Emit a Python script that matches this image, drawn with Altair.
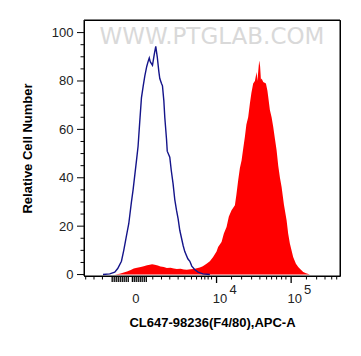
import altair as alt
import pandas as pd

# display position on the biexponential axis (decade units: 10^4 -> 4, 10^5 -> 5)
blue_x = [2.478, 2.568, 2.635, 2.675, 2.725, 2.756, 2.792, 2.823, 2.859, 2.881, 2.926, 2.948,
          2.970, 2.993, 3.017, 3.038, 3.064, 3.082, 3.098, 3.111, 3.141, 3.165, 3.185, 3.205,
          3.226, 3.239, 3.262, 3.275, 3.293, 3.306, 3.329, 3.339, 3.373, 3.393, 3.417, 3.440,
          3.463, 3.485, 3.507, 3.552, 3.574, 3.615, 3.642, 3.668, 3.709, 3.753, 3.816, 3.910]
blue_y = [0, 0.3, 1, 2.5, 5.5, 10, 16, 21, 30, 35, 47, 53,
          63, 73, 78, 82, 86, 88, 89.5, 88, 86.5, 91, 94.3, 90,
          84, 81, 79, 78, 72, 65, 56, 51, 48.5, 43, 37.6, 31,
          26.6, 23, 18.3, 12, 9.5, 6.5, 5.5, 3.5, 2, 1, 0.3, 0]

red_x = [2.635, 2.702, 2.756, 2.800, 2.850, 2.890, 2.934, 2.984, 3.024, 3.068, 3.105, 3.136,
         3.172, 3.212, 3.248, 3.293, 3.333, 3.383, 3.427, 3.467, 3.517, 3.561, 3.601, 3.651,
         3.695, 3.736, 3.776, 3.816, 3.866, 3.910, 3.954, 4.000, 4.021, 4.067, 4.098, 4.134,
         4.165, 4.201, 4.246, 4.266, 4.290, 4.313, 4.336, 4.357, 4.380, 4.400, 4.424, 4.447,
         4.467, 4.491, 4.514, 4.537, 4.548, 4.559, 4.572, 4.584, 4.595, 4.604, 4.626, 4.662,
         4.682, 4.693, 4.715, 4.738, 4.760, 4.783, 4.805, 4.827, 4.850, 4.872, 4.903, 4.939,
         4.960, 4.983, 5.005, 5.027, 5.064, 5.095, 5.131, 5.162, 5.199, 5.252]
red_y = [0, 0.3, 0.8, 1.3, 1.9, 2.5, 2.8, 3.1, 3.4, 3.8, 4.1, 4.3,
         4.0, 3.7, 3.3, 3.1, 2.7, 2.8, 2.5, 2.3, 2.4, 2.1, 2.0, 2.2,
         2.3, 2.6, 2.9, 3.4, 4.5, 5.5, 7.3, 9.5, 11.4, 13.5, 17, 19.7,
         24, 26.6, 28.6, 33, 39, 44, 47.2, 52, 56.9, 62, 65, 70.7,
         75, 79, 80, 83.7, 80, 84, 88.5, 86, 80.5, 81, 79.6, 79,
         76, 73.4, 68, 65, 61, 56, 51.4, 45, 40, 36.2, 29, 22.4,
         17, 12.8, 10, 7.3, 4.5, 3.1, 2, 1.1, 0.5, 0]

x_minor_ticks = [2.246, 2.357, 2.470, 3.145, 3.262, 3.373, 3.485, 3.574, 3.664, 3.732, 3.799,
                 3.843, 3.887, 3.933, 4.201, 4.336, 4.470, 4.581, 4.671, 4.738, 4.805, 4.872,
                 4.930, 5.205, 5.342, 5.454, 5.544, 5.611]
x_cluster_ticks = [2.601, 2.628, 2.655, 2.682, 2.709, 2.736, 2.762, 2.789, 2.816,
                   2.872, 2.897, 2.923, 2.950, 2.977, 3.003, 3.031, 3.058]
x_major_ticks = [4.0, 5.0]
x_label_pos = [2.872, 4.0, 5.0]
x_label_base = ["0", "10", "10"]
x_exp_pos = [4.0, 5.0]
x_exp_text = ["4", "5"]
y_major_ticks = [0, 20, 40, 60, 80, 100]
y_minor_ticks = [5, 10, 15, 25, 30, 35, 45, 50, 55, 65, 70, 75, 85, 90, 95]

x_domain = [2.223, 5.655]
y_domain = [-0.6, 105.2]
FONT = "Liberation Sans"
W, H = 256, 256
UNITS_PER_PX = (x_domain[1] - x_domain[0]) / W

blue = pd.DataFrame({"u": blue_x, "count": blue_y})
red = pd.DataFrame({"u": red_x, "count": red_y})
labels = pd.DataFrame({"u": x_label_pos, "base": x_label_base})
exps = pd.DataFrame({"u": x_exp_pos, "exp": x_exp_text})

xscale = alt.Scale(domain=x_domain, nice=False, zero=False)
yscale = alt.Scale(domain=y_domain, nice=False, zero=False)

x_axis = alt.Axis(
    ticks=False, labels=False, domain=False, grid=False,
    title="CL647-98236(F4/80),APC-A", titleFont=FONT, titleFontSize=13,
    titleFontWeight="bold", titleColor="black", titlePadding=40,
)
y_axis = alt.Axis(
    values=y_major_ticks, domain=False, grid=False, ticks=False,
    labelFont=FONT, labelFontSize=13, labelColor="#222222", labelPadding=11,
    title="Relative Cell Number", titleFont=FONT, titleFontSize=13,
    titleFontWeight="bold", titleColor="black", titlePadding=17,
)

red_layer = alt.Chart(red).mark_area(color="#ff0000", opacity=1, interpolate="linear").encode(
    x=alt.X("u:Q", scale=xscale, axis=x_axis),
    y=alt.Y("count:Q", scale=yscale, axis=y_axis),
)
blue_layer = alt.Chart(blue).mark_line(color="#14148a", strokeWidth=1.4).encode(
    x="u:Q", y="count:Q",
)
watermark = alt.Chart(pd.DataFrame({"t": ["WWW.PTGLAB.COM"]})).mark_text(
    font="DejaVu Sans", fontSize=23, color="#d9d9d9",
    align="center", baseline="middle",
).encode(text="t:N", x=alt.value(128), y=alt.value(17))


def x_tick_layer(vals, length, width=1.0):
    return alt.Chart(pd.DataFrame({"u": vals})).mark_rule(color="black", strokeWidth=width).encode(
        x="u:Q", y=alt.value(H), y2=alt.value(H + length))


# y ticks as short horizontal bars (rects) just left of the plot
def y_tick_layer(vals, length):
    df = pd.DataFrame({"v": vals})
    df["xs"] = x_domain[0] - length * UNITS_PER_PX
    df["xe"] = x_domain[0]
    return alt.Chart(df).mark_rect(color="black", height=1).encode(
        y="v:Q", x="xs:Q", x2="xe:Q")


# frame: left/right edges as rules positioned on the x scale (same form as the x ticks)
edges = pd.DataFrame({"u": [x_domain[0], x_domain[1]]})
side_edges = alt.Chart(edges).mark_rule(color="black", strokeWidth=1).encode(
    x="u:Q", y=alt.value(0), y2=alt.value(H))
# top/bottom edges as thin rects on the y scale
tb = pd.DataFrame({"v": [y_domain[0], y_domain[1]], "xs": [x_domain[0]] * 2, "xe": [x_domain[1]] * 2})
tb_edges = alt.Chart(tb).mark_rect(color="black", height=1).encode(
    y="v:Q", x="xs:Q", x2="xe:Q")

base_text = alt.Chart(labels).mark_text(
    font=FONT, fontSize=13, color="#222222", align="center", baseline="middle", dx=3.5,
).encode(x="u:Q", y=alt.value(279), text="base:N")
exp_text = alt.Chart(exps).mark_text(
    font=FONT, fontSize=13, color="#222222", align="center", baseline="middle", dx=16.5,
).encode(x="u:Q", y=alt.value(270), text="exp:N")

chart = alt.layer(
    red_layer, blue_layer, watermark,
    x_tick_layer(x_minor_ticks, 3.5), x_tick_layer(x_cluster_ticks, 6, 1.3),
    x_tick_layer(x_major_ticks, 7, 1.3),
    side_edges, tb_edges,
    y_tick_layer(y_minor_ticks, 3.5), y_tick_layer(y_major_ticks, 7),
    base_text, exp_text,
).properties(
    width=W, height=H,
    background="white",
    autosize=alt.AutoSizeParams(type="none"),
    padding={"left": 76, "top": 12, "right": 13, "bottom": 72},
).configure_view(stroke="black", strokeWidth=1)

chart.save("out.html", embed_options={"renderer": "svg", "actions": False})
